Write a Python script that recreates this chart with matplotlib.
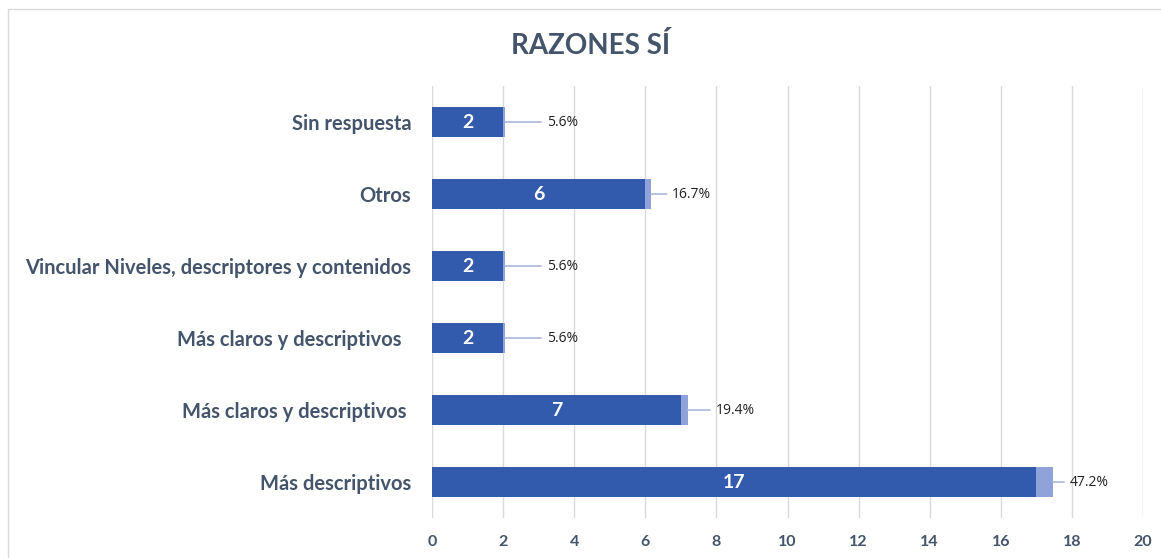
import matplotlib.pyplot as plt
from matplotlib.patches import Rectangle
import numpy as np

plt.rcParams['font.family'] = ['Lato', 'DejaVu Sans']

categories = ['Más descriptivos', 'Más claros y descriptivos ', 'Más claros y descriptivos  ',
              'Vincular Niveles, descriptores y contenidos', 'Otros', 'Sin respuesta']
counts = [17, 7, 2, 2, 6, 2]
percents = [47.2, 19.4, 5.6, 5.6, 16.7, 5.6]
# horizontal offset (points) of each percentage label from the end of its bar
label_offsets = [12, 20, 30, 30, 15, 30]

text_col = '#44546A'
bar_col = '#325BAD'
pct_col = '#8FA3DA'
line_col = '#A9B8DA'

fig = plt.figure(figsize=(11.61, 5.58), dpi=100)
ax = fig.add_axes([432 / 1161, 1 - 518 / 558, 711 / 1161, 432 / 558])

y = np.arange(len(categories))
frac = np.array(percents) / 100
ax.barh(y, counts, height=0.42, color=bar_col, zorder=3)
ax.barh(y, frac, left=counts, height=0.42, color=pct_col, zorder=3)

for yi, c, p, f, off in zip(y, counts, percents, frac, label_offsets):
    ax.text(c / 2, yi, str(c), ha='center', va='center', color='white',
            fontsize=14, fontweight='bold', zorder=4)
    end = c + f
    ax.annotate(f'{p:.1f}%', xy=(end, yi), xytext=(off, 0), textcoords='offset points',
                ha='left', va='center', fontsize=10, color='#222222',
                family=['Open Sans', 'DejaVu Sans'],
                arrowprops=dict(arrowstyle='-', color=line_col, lw=1.2,
                                shrinkA=2, shrinkB=0))

ax.set_xlim(0, 20)
ax.set_ylim(-0.5, len(categories) - 0.5)
ax.set_xticks(np.arange(0, 21, 2))
ax.set_yticks(y)
ax.set_yticklabels(categories)
ax.tick_params(axis='both', length=0, colors=text_col)
ax.tick_params(axis='y', pad=15, labelsize=14.5)
ax.tick_params(axis='x', pad=12, labelsize=11.5)
for lab in ax.get_xticklabels() + ax.get_yticklabels():
    lab.set_fontweight('bold')
ax.grid(axis='x', color='#D9D9D9', lw=1, zorder=0)
for s in ax.spines.values():
    s.set_visible(False)

fig.text(591 / 1161, 1 - 46 / 558, 'RAZONES SÍ', ha='center', va='center',
         fontsize=20, fontweight='bold', color=text_col)

fig.patches.append(Rectangle((8 / 1161, -0.1), 1.2, 1 - 9 / 558 + 0.1,
                             transform=fig.transFigure, fill=False,
                             edgecolor='#D9D9D9', lw=1))

fig.savefig('out.png', dpi=100)
